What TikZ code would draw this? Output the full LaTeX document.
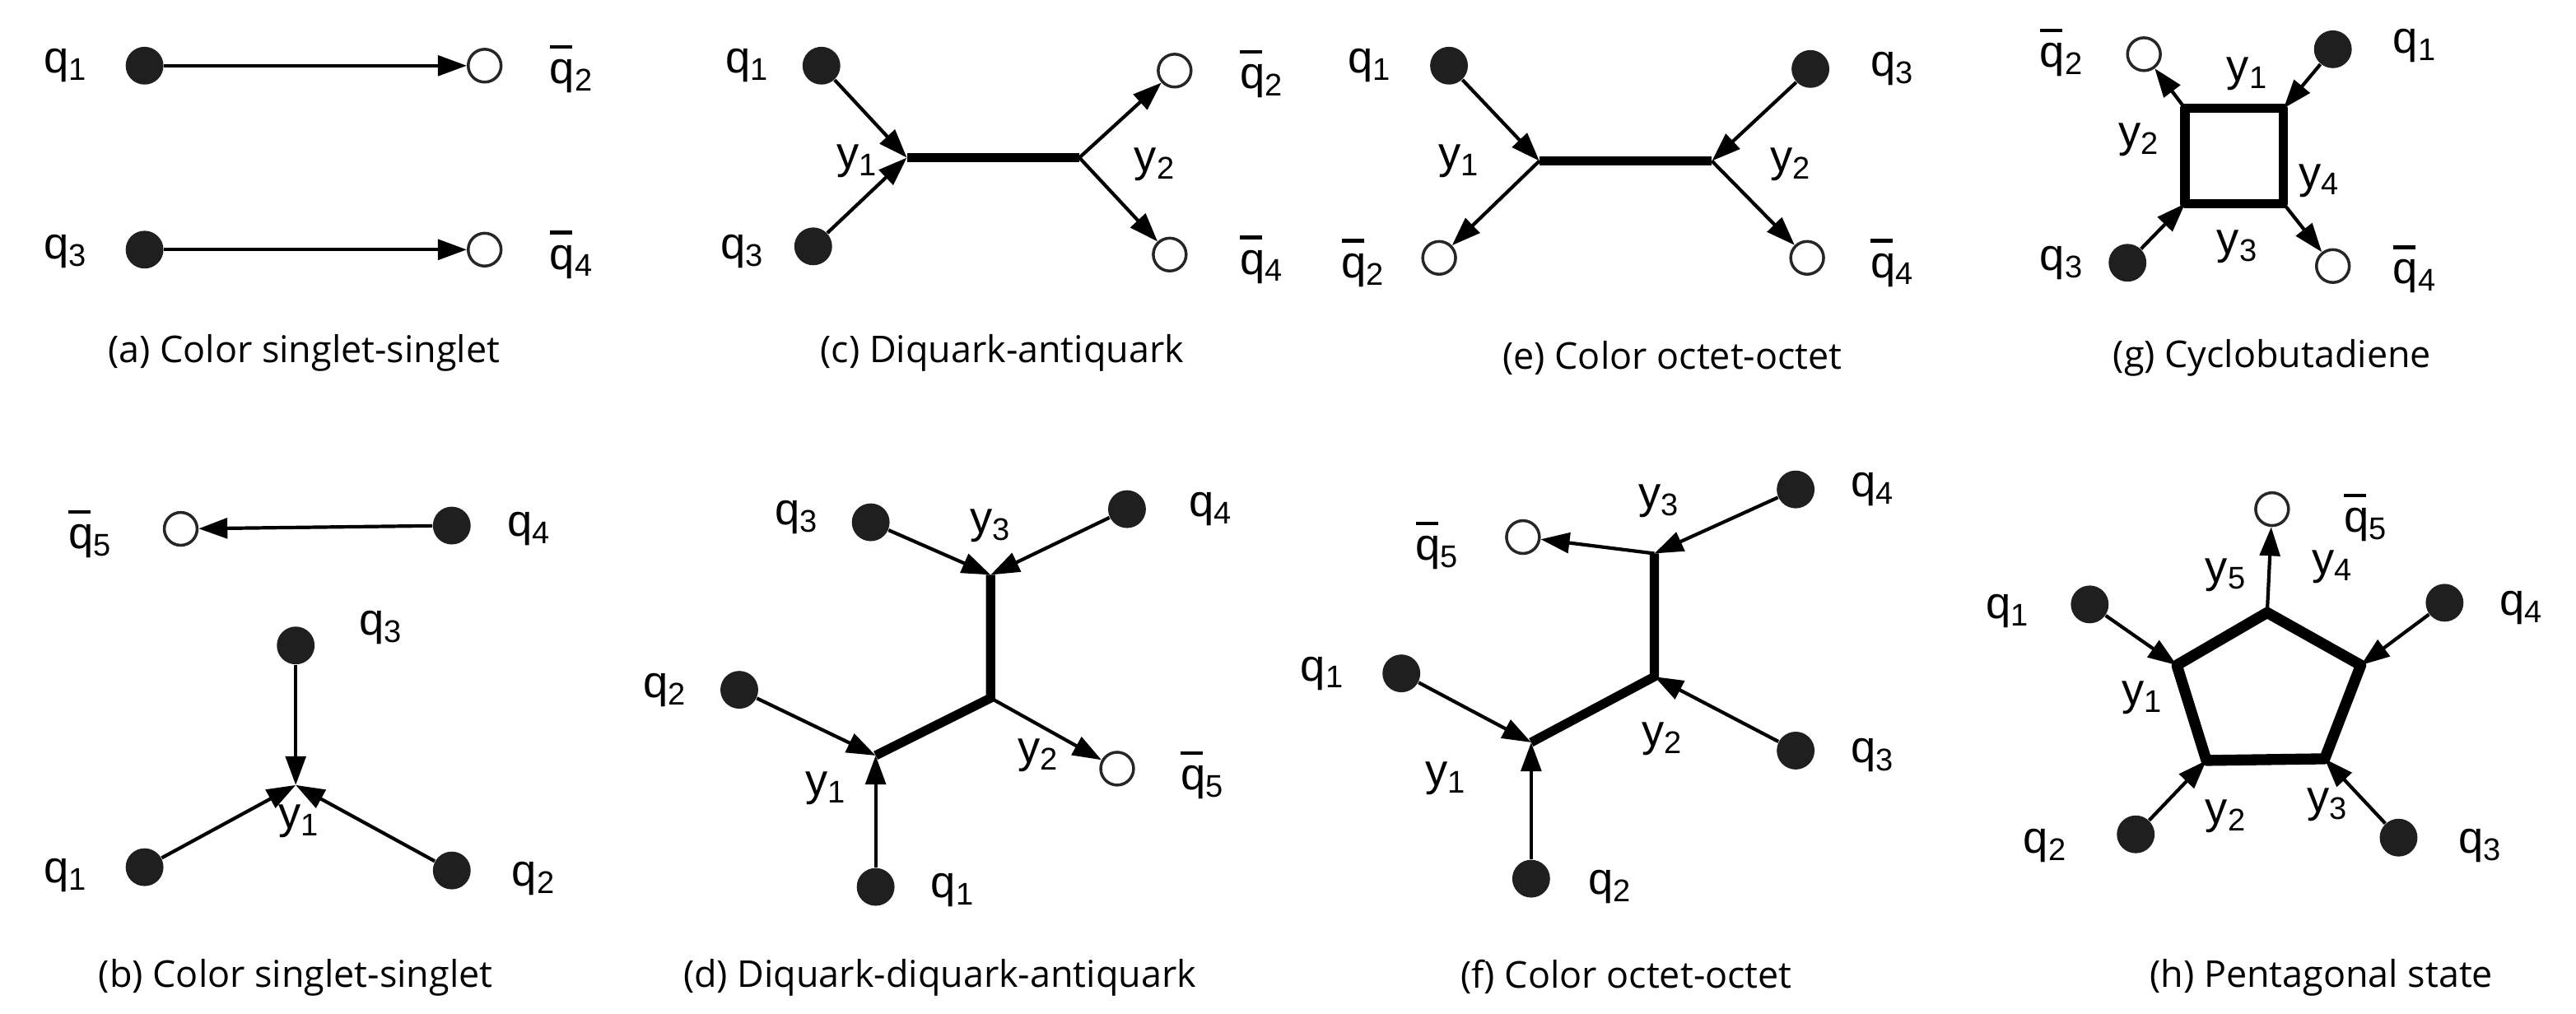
\documentclass[tikz,border=0pt]{standalone}
\usepackage{fontspec}
\setmainfont{Liberation Sans}
\newfontfamily\capfont{Open Sans}
\usetikzlibrary{arrows.meta}
\newcommand{\qb}[1]{\makebox[0pt][l]{\rule[0.78em]{0.5em}{0.08em}}q\textsubscript{#1}}
\newcommand{\qq}[1]{q\textsubscript{#1}}
\newcommand{\yy}[1]{y\textsubscript{#1}}
\begin{document}
\begin{tikzpicture}[x=0.02cm,y=-0.02cm,
 dot/.style={circle,fill=black!88,inner sep=0pt,minimum width=0.42cm,minimum height=0.46cm},
 odot/.style={circle,draw=black!85,line width=1pt,fill=white,inner sep=0pt,minimum size=0.4cm},
 lab/.style={font=\fontsize{15.5}{18}\selectfont},
 capt/.style={font=\capfont\fontsize{12.8}{15}\selectfont},
 ar/.style={line width=1.2pt,-{Triangle[length=10pt,width=7pt]}},
 bond/.style={line width=3.2pt}]
\useasboundingbox (0,0) rectangle (1568,617);
% (a)
\node[dot] (a1) at (88,40) {};
\node[odot] (a2) at (295,40) {};
\node[dot] (a3) at (88,152) {};
\node[odot] (a4) at (295,152) {};
\draw[ar] (a1) -- (a2);
\draw[ar] (a3) -- (a4);
\node[lab] (la1) at (40,40) {\qq1};
\node[lab] (la2) at (348,42) {\qb2};
\node[lab] (la3) at (40,153) {\qq3};
\node[lab] (la4) at (348,155) {\qb4};
\node[capt] (ca) at (185,215) {(a) Color singlet-singlet};
% (c)
\node[dot] (c1) at (500,40) {};
\node[dot] (c3) at (495,150) {};
\coordinate (cv1) at (552,96);
\coordinate (cv2) at (657,96);
\node[odot] (c2) at (715,43) {};
\node[odot] (c4) at (712,155) {};
\draw[bond] (cv1) -- (cv2);
\draw[ar] (c1) -- (cv1);
\draw[ar] (c3) -- (cv1);
\draw[ar] (cv2) -- (c2);
\draw[ar] (cv2) -- (c4);
\node[lab] (lc1) at (455,40) {\qq1};
\node[lab] (lc3) at (452,153) {\qq3};
\node[lab] (lcy1) at (522,98) {\yy1};
\node[lab] (lcy2) at (703,100) {\yy2};
\node[lab] (lc2) at (768,45) {\qb2};
\node[lab] (lc4) at (768,158) {\qb4};
\node[capt] (cc) at (610,215) {(c) Diquark-antiquark};
% (e)
\node[dot] (e1) at (882,40) {};
\node[odot] (e2) at (876,157) {};
\coordinate (ev1) at (937,98);
\coordinate (ev2) at (1042,98);
\node[dot] (e3) at (1102,42) {};
\node[odot] (e4) at (1100,157) {};
\draw[bond] (ev1) -- (ev2);
\draw[ar] (e1) -- (ev1);
\draw[ar] (ev1) -- (e2);
\draw[ar] (e3) -- (ev2);
\draw[ar] (ev2) -- (e4);
\node[lab] (le1) at (834,40) {\qq1};
\node[lab] (le2) at (830,160) {\qb2};
\node[lab] (ley1) at (888,98) {\yy1};
\node[lab] (ley2) at (1090,100) {\yy2};
\node[lab] (le3) at (1152,42) {\qq3};
\node[lab] (le4) at (1152,160) {\qb4};
\node[capt] (ce) at (1018,218) {(e) Color octet-octet};
% (g)
\coordinate (g1) at (1330,66);
\coordinate (g2) at (1390,66);
\coordinate (g3) at (1390,124);
\coordinate (g4) at (1330,124);
\node[odot] (gq2) at (1305,33) {};
\node[dot] (gq1) at (1420,30) {};
\node[dot] (gq3) at (1295,160) {};
\node[odot] (gq4) at (1420,162) {};
\draw[bond,line join=round] (g1) -- (g2) -- (g3) -- (g4) -- cycle;
\draw[ar] (g1) -- (gq2);
\draw[ar] (gq1) -- (g2);
\draw[ar] (gq3) -- (g4);
\draw[ar] (g3) -- (gq4);
\node[lab] (lg2) at (1255,32) {\qb2};
\node[lab] (lg1) at (1470,28) {\qq1};
\node[lab] (lgy1) at (1368,45) {\yy1};
\node[lab] (lgy2) at (1302,85) {\yy2};
\node[lab] (lgy4) at (1412,110) {\yy4};
\node[lab] (lgy3) at (1362,150) {\yy3};
\node[lab] (lg3) at (1255,160) {\qq3};
\node[lab] (lg4) at (1470,164) {\qb4};
\node[capt] (cg) at (1383,218) {(g) Cyclobutadiene};
% (b)
\node[odot] (b5) at (110,322) {};
\node[dot] (b4) at (275,320) {};
\node[dot] (b3) at (180,393) {};
\coordinate (bv) at (180,478);
\node[dot] (b1) at (88,528) {};
\node[dot] (b2) at (275,530) {};
\draw[ar] (b4) -- (b5);
\draw[ar] (b3) -- (bv);
\draw[ar] (b1) -- (bv);
\draw[ar] (b2) -- (bv);
\node[lab] (lb5) at (55,325) {\qb5};
\node[lab] (lb4) at (322,322) {\qq4};
\node[lab] (lb3) at (232,382) {\qq3};
\node[lab] (lby1) at (182,500) {\yy1};
\node[lab] (lb1) at (40,533) {\qq1};
\node[lab] (lb2) at (325,535) {\qq2};
\node[capt] (cb) at (180,595) {(b) Color singlet-singlet};
% (d)
\node[dot] (d3) at (530,318) {};
\node[dot] (d4) at (686,310) {};
\coordinate (dv3) at (603,350);
\coordinate (dv2) at (603,425);
\coordinate (dv1) at (533,460);
\node[dot] (d2) at (450,420) {};
\node[dot] (d1) at (533,540) {};
\node[odot] (d5) at (680,468) {};
\draw[bond,line join=round] (dv3) -- (dv2) -- (dv1);
\draw[ar] (d3) -- (dv3);
\draw[ar] (d4) -- (dv3);
\draw[ar] (d2) -- (dv1);
\draw[ar] (d1) -- (dv1);
\draw[ar] (dv2) -- (d5);
\node[lab] (ld3) at (485,315) {\qq3};
\node[lab] (ld4) at (737,310) {\qq4};
\node[lab] (ldy3) at (603,320) {\yy3};
\node[lab] (ld2) at (405,420) {\qq2};
\node[lab] (ldy1) at (503,480) {\yy1};
\node[lab] (ldy2) at (632,460) {\yy2};
\node[lab] (ld5) at (732,472) {\qb5};
\node[lab] (ld1) at (580,542) {\qq1};
\node[capt] (cd) at (572,595) {(d) Diquark-diquark-antiquark};
% (f)
\node[odot] (f5) at (927,327) {};
\node[dot] (f4) at (1093,298) {};
\coordinate (fv3) at (1007,337);
\coordinate (fv2) at (1007,412);
\coordinate (fv1) at (932,452);
\node[dot] (f1) at (853,410) {};
\node[dot] (f2) at (932,535) {};
\node[dot] (f3) at (1093,457) {};
\draw[bond,line join=round] (fv3) -- (fv2) -- (fv1);
\draw[ar] (fv3) -- (f5);
\draw[ar] (f4) -- (fv3);
\draw[ar] (f1) -- (fv1);
\draw[ar] (f2) -- (fv1);
\draw[ar] (f3) -- (fv2);
\node[lab] (lf5) at (875,332) {\qb5};
\node[lab] (lfy3) at (1010,305) {\yy3};
\node[lab] (lf4) at (1140,298) {\qq4};
\node[lab] (lf1) at (805,410) {\qq1};
\node[lab] (lfy2) at (1012,450) {\yy2};
\node[lab] (lfy1) at (880,474) {\yy1};
\node[lab] (lf3) at (1140,460) {\qq3};
\node[lab] (lf2) at (980,540) {\qq2};
\node[capt] (cf) at (990,595) {(f) Color octet-octet};
% (h)
\coordinate (h5) at (1380,373);
\coordinate (h1) at (1325,405);
\coordinate (h2) at (1343,463);
\coordinate (h3) at (1415,462);
\coordinate (h4) at (1437,405);
\node[odot] (hq5) at (1383,310) {};
\node[dot] (hq1) at (1272,368) {};
\node[dot] (hq4) at (1488,367) {};
\node[dot] (hq2) at (1300,508) {};
\node[dot] (hq3) at (1460,510) {};
\draw[bond,line width=3.8pt,line join=round] (h5) -- (h1) -- (h2) -- (h3) -- (h4) -- cycle;
\draw[ar] (h5) -- (hq5);
\draw[ar] (hq1) -- (h1);
\draw[ar] (hq4) -- (h4);
\draw[ar] (hq2) -- (h2);
\draw[ar] (hq3) -- (h3);
\node[lab] (lh5) at (1440,315) {\qb5};
\node[lab] (lh1) at (1222,372) {\qq1};
\node[lab] (lhy5) at (1355,350) {\yy5};
\node[lab] (lhy4) at (1420,345) {\yy4};
\node[lab] (lh4) at (1535,370) {\qq4};
\node[lab] (lhy1) at (1304,425) {\yy1};
\node[lab] (lhy3) at (1417,490) {\yy3};
\node[lab] (lhy2) at (1355,497) {\yy2};
\node[lab] (lh2) at (1245,515) {\qq2};
\node[lab] (lh3) at (1510,515) {\qq3};
\node[capt] (ch) at (1413,595) {(h) Pentagonal state};
\end{tikzpicture}
\end{document}
